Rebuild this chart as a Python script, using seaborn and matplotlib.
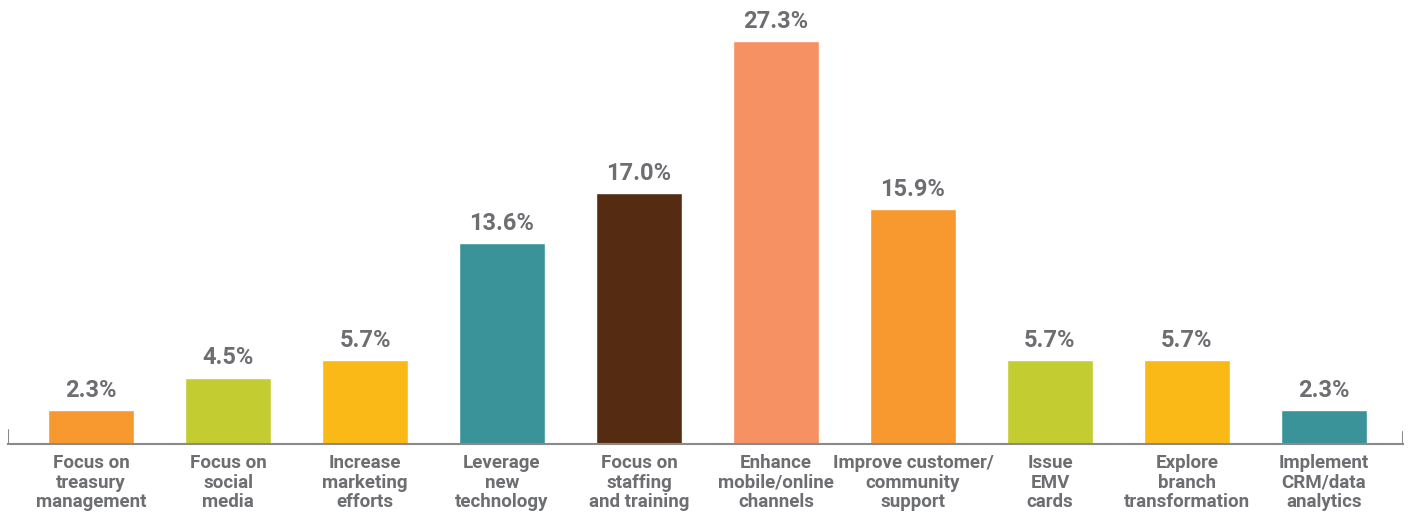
import matplotlib
matplotlib.use("Agg")
import matplotlib.pyplot as plt
import seaborn as sns
import pandas as pd

# Chart data
categories = [
    "Focus on\ntreasury\nmanagement",
    "Focus on\nsocial\nmedia",
    "Increase\nmarketing\nefforts",
    "Leverage\nnew\ntechnology",
    "Focus on\nstaffing\nand training",
    "Enhance\nmobile/online\nchannels",
    "Improve customer/\ncommunity\nsupport",
    "Issue\nEMV\ncards",
    "Explore\nbranch\ntransformation",
    "Implement\nCRM/data\nanalytics",
]
values = [2.3, 4.5, 5.7, 13.6, 17.0, 27.3, 15.9, 5.7, 5.7, 2.3]
bar_colors = ["#F7992F", "#C3CD32", "#FBB918", "#3A9399", "#552B12",
              "#F59162", "#F7992F", "#C3CD32", "#FBB918", "#3A9399"]

text_gray = "#6D6E71"
axis_gray = "#8A8A8A"

sns.set_style("white")
plt.rcParams['font.family'] = ['Roboto', 'DejaVu Sans']

df = pd.DataFrame({"category": categories, "value": values})

fig = plt.figure(figsize=(14.11, 5.12), dpi=100)
ax = fig.add_axes([8 / 1411, 68 / 512, 1395 / 1411, 444 / 512])

sns.barplot(data=df, x="category", y="value", hue="category",
            palette=bar_colors, legend=False, width=0.63, saturation=1, ax=ax)

for cont in ax.containers:
    ax.bar_label(cont, fmt="%.1f%%", padding=6, color=text_gray,
                 fontsize=17, fontweight="bold")

ax.set_xlim(-0.606, 9.577)
ax.set_ylim(0, 30.1)
ax.set_xlabel("")
ax.set_ylabel("")
ax.set_yticks([])
ax.tick_params(axis="x", length=0, pad=7)
for lbl in ax.get_xticklabels():
    lbl.set_color(text_gray)
    lbl.set_fontsize(13.5)
    lbl.set_fontweight("bold")
    lbl.set_linespacing(1.13)

for side in ["top", "left", "right"]:
    ax.spines[side].set_visible(False)
ax.spines["bottom"].set_color(axis_gray)
ax.spines["bottom"].set_linewidth(1.5)

# short end caps on the baseline
ax.axvline(-0.606, ymin=0, ymax=14 / 444, color=axis_gray, lw=1.5)
ax.axvline(9.577, ymin=0, ymax=12 / 444, color=axis_gray, lw=1.5)

fig.savefig("out.png", dpi=100)
